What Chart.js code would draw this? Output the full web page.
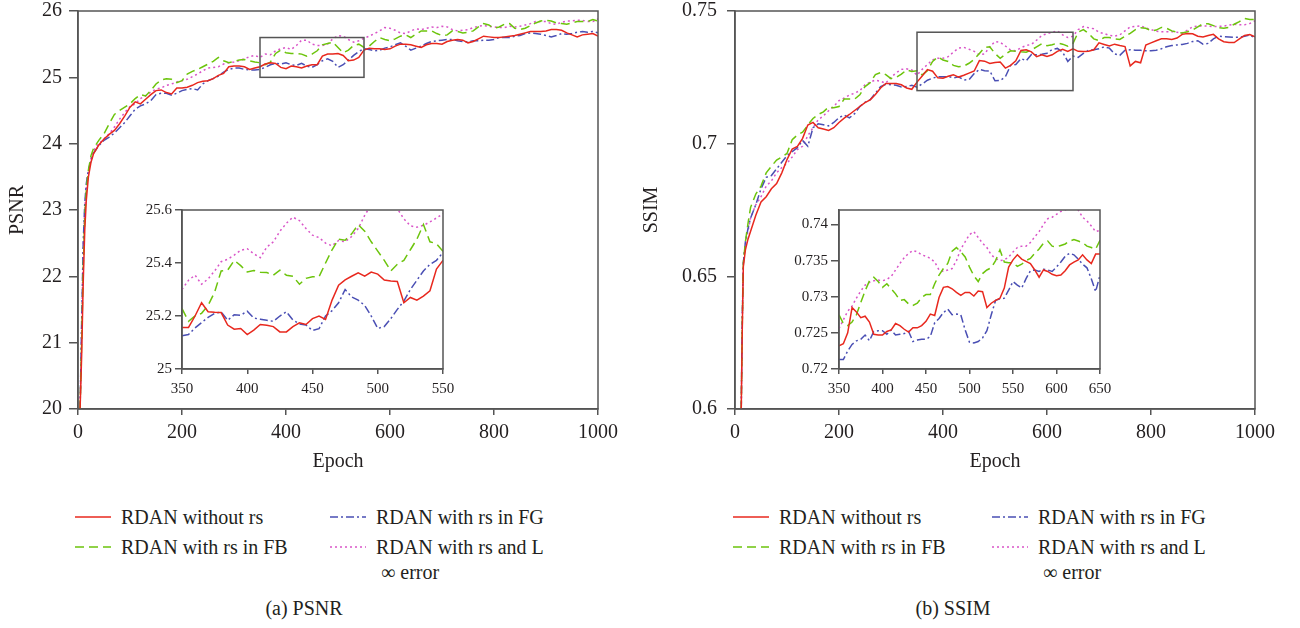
<!DOCTYPE html>
<html>
<head>
<meta charset="utf-8">
<script src="https://cdn.jsdelivr.net/npm/chart.js@4.4.1/dist/chart.umd.min.js"></script>
<style>
  body { margin: 0; background: #fff; }
  #page { position: relative; width: 1300px; height: 628px; overflow: hidden;
          font-family: 'Liberation Serif', 'DejaVu Serif', serif; color: #231f20; }
  canvas { position: absolute; }
  .lg { position: absolute; font-size: 20px; line-height: 25px; white-space: pre; }
  .lg svg { position: absolute; }
  .cap { position: absolute; font-size: 20px; line-height: 24px; transform: translateX(-50%); white-space: nowrap; }
</style>
</head>
<body>
<div id="page">
  <canvas id="psnrMain" width="640" height="480" style="left:0;top:0"></canvas>
  <canvas id="psnrInset" width="340" height="220" style="left:120px;top:190px"></canvas>
  <canvas id="ssimMain" width="660" height="480" style="left:630px;top:0"></canvas>
  <canvas id="ssimInset" width="340" height="220" style="left:780px;top:190px"></canvas>
  <div class="cap" style="left:304px;top:596px">(a) PSNR</div>
  <div class="cap" style="left:953px;top:596px">(b) SSIM</div>
</div>
<script>
// series: red, green, blue, magenta
const seriesNames = ['RDAN without rs', 'RDAN with rs in FB', 'RDAN with rs in FG', 'RDAN with rs and L\n ∞ error'];
const seriesColors = ['#e8281e', '#6cc40c', '#4a4fb4', '#d954c8'];
const seriesDash = [[], [9, 5], [8, 3, 2, 3], [2, 3]];

// x values (epochs)
const psnrEpochs = [4, 7, 10, 13, 16, 20, 25, 30,
  40, 50, 60, 70, 80, 90, 100, 110, 120, 130,
  140, 150, 160, 170, 180, 190, 200, 210, 220, 230,
  240, 250, 260, 270, 280, 290, 300, 310, 320, 330,
  340, 350, 360, 370, 380, 390, 400, 410, 420, 430,
  440, 450, 460, 470, 480, 490, 500, 510, 520, 530,
  540, 550, 560, 570, 580, 590, 600, 610, 620, 630,
  640, 650, 660, 670, 680, 690, 700, 710, 720, 730,
  740, 750, 760, 770, 780, 790, 800, 810, 820, 830,
  840, 850, 860, 870, 880, 890, 900, 910, 920, 930,
  940, 950, 960, 970, 980, 990, 1000];
const ssimEpochs = [12, 14, 16, 20, 25, 30,
  40, 50, 60, 70, 80, 90, 100, 110, 120, 130,
  140, 150, 160, 170, 180, 190, 200, 210, 220, 230,
  240, 250, 260, 270, 280, 290, 300, 310, 320, 330,
  340, 350, 360, 370, 380, 390, 400, 410, 420, 430,
  440, 450, 460, 470, 480, 490, 500, 510, 520, 530,
  540, 550, 560, 570, 580, 590, 600, 610, 620, 630,
  640, 650, 660, 670, 680, 690, 700, 710, 720, 730,
  740, 750, 760, 770, 780, 790, 800, 810, 820, 830,
  840, 850, 860, 870, 880, 890, 900, 910, 920, 930,
  940, 950, 960, 970, 980, 990, 1000];
const psnrInsetEpochs = [350, 355, 360, 365, 370, 375, 380, 385, 390, 395,
  400, 405, 410, 415, 420, 425, 430, 435, 440, 445,
  450, 455, 460, 465, 470, 475, 480, 485, 490, 495,
  500, 505, 510, 515, 520, 525, 530, 535, 540, 545, 550];
const ssimInsetEpochs = [350, 355, 360, 365, 370, 375, 380, 385, 390, 395,
  400, 405, 410, 415, 420, 425, 430, 435, 440, 445,
  450, 455, 460, 465, 470, 475, 480, 485, 490, 495,
  500, 505, 510, 515, 520, 525, 530, 535, 540, 545,
  550, 555, 560, 565, 570, 575, 580, 585, 590, 595,
  600, 605, 610, 615, 620, 625, 630, 635, 640, 645, 650];

// PSNR, full run
const psnrRed = [20.0, 20.8, 21.9, 22.7, 23.15, 23.5, 23.72, 23.85,
  23.98, 24.07, 24.14, 24.2, 24.3, 24.42, 24.55, 24.63, 24.6, 24.67,
  24.74, 24.8, 24.81, 24.77, 24.75, 24.84, 24.84, 24.85, 24.88, 24.92,
  24.94, 24.95, 24.98, 25.03, 25.06, 25.16, 25.17, 25.17, 25.16, 25.12,
  25.14, 25.16, 25.2, 25.22, 25.21, 25.15, 25.13, 25.17, 25.16, 25.14,
  25.17, 25.19, 25.19, 25.32, 25.35, 25.35, 25.36, 25.33, 25.25, 25.26,
  25.3, 25.41, 25.44, 25.43, 25.43, 25.42, 25.43, 25.47, 25.5, 25.5,
  25.49, 25.47, 25.45, 25.49, 25.51, 25.51, 25.5, 25.54, 25.56, 25.57,
  25.56, 25.52, 25.54, 25.58, 25.62, 25.61, 25.6, 25.6, 25.61, 25.62,
  25.63, 25.65, 25.67, 25.69, 25.69, 25.69, 25.7, 25.72, 25.72, 25.71,
  25.67, 25.64, 25.61, 25.64, 25.65, 25.66, 25.62];
const psnrGreen = [20.0, 21.0, 22.1, 22.9, 23.3, 23.6, 23.82, 23.93,
  24.05, 24.15, 24.3, 24.44, 24.5, 24.55, 24.6, 24.68, 24.74, 24.72,
  24.8, 24.9, 24.96, 24.98, 24.97, 24.92, 24.95, 25.05, 25.09, 25.12,
  25.16, 25.2, 25.24, 25.3, 25.25, 25.22, 25.24, 25.26, 25.27, 25.25,
  25.23, 25.22, 25.19, 25.23, 25.36, 25.41, 25.37, 25.36, 25.36, 25.35,
  25.32, 25.35, 25.4, 25.49, 25.51, 25.53, 25.45, 25.37, 25.41, 25.48,
  25.5, 25.45, 25.47, 25.54, 25.6, 25.57, 25.55, 25.58, 25.62, 25.64,
  25.6, 25.65, 25.7, 25.7, 25.7, 25.66, 25.63, 25.64, 25.7, 25.69,
  25.67, 25.68, 25.7, 25.76, 25.81, 25.79, 25.74, 25.76, 25.8, 25.81,
  25.74, 25.72, 25.74, 25.78, 25.82, 25.85, 25.86, 25.85, 25.82, 25.81,
  25.8, 25.82, 25.84, 25.84, 25.84, 25.87, 25.85];
const psnrBlue = [20.0, 21.3, 22.5, 23.1, 23.4, 23.6, 23.75, 23.86,
  23.97, 24.05, 24.1, 24.16, 24.24, 24.32, 24.42, 24.52, 24.57, 24.6,
  24.65, 24.74, 24.76, 24.76, 24.73, 24.76, 24.8, 24.82, 24.83, 24.81,
  24.9, 24.95, 24.98, 25.02, 25.08, 25.12, 25.14, 25.14, 25.12, 25.11,
  25.11, 25.12, 25.15, 25.19, 25.21, 25.2, 25.22, 25.19, 25.18, 25.21,
  25.17, 25.15, 25.19, 25.25, 25.28, 25.24, 25.15, 25.19, 25.26, 25.33,
  25.39, 25.43, 25.42, 25.4, 25.41, 25.44, 25.46, 25.49, 25.52, 25.47,
  25.41, 25.44, 25.47, 25.51, 25.54, 25.55, 25.56, 25.57, 25.57, 25.55,
  25.54, 25.53, 25.55, 25.55, 25.56, 25.56, 25.57, 25.6, 25.6, 25.6,
  25.62, 25.63, 25.66, 25.67, 25.66, 25.65, 25.63, 25.61, 25.63, 25.66,
  25.65, 25.66, 25.68, 25.69, 25.68, 25.69, 25.67];
const psnrMagenta = [20.0, 21.2, 22.4, 23.0, 23.35, 23.6, 23.78, 23.9,
  24.0, 24.07, 24.15, 24.25, 24.37, 24.47, 24.56, 24.6, 24.68, 24.72,
  24.78, 24.82, 24.84, 24.88, 24.9, 24.93, 24.95, 24.97, 25.01, 25.05,
  25.1, 25.14, 25.15, 25.16, 25.2, 25.22, 25.23, 25.25, 25.28, 25.31,
  25.33, 25.3, 25.35, 25.34, 25.4, 25.43, 25.45, 25.42, 25.48, 25.56,
  25.56, 25.5, 25.48, 25.48, 25.5, 25.58, 25.63, 25.62, 25.57, 25.53,
  25.55, 25.59, 25.62, 25.66, 25.7, 25.75, 25.74, 25.71, 25.67, 25.66,
  25.7, 25.73, 25.72, 25.74, 25.76, 25.75, 25.77, 25.76, 25.72, 25.7,
  25.71, 25.72, 25.75, 25.77, 25.78, 25.77, 25.76, 25.75, 25.75, 25.77,
  25.76, 25.77, 25.79, 25.81, 25.84, 25.84, 25.84, 25.81, 25.8, 25.83,
  25.85, 25.85, 25.86, 25.86, 25.84, 25.84, 25.88];

// PSNR, zoomed window 350-550
const psnrInsetRed = [25.157, 25.157, 25.2, 25.25, 25.216, 25.214, 25.213, 25.166, 25.15, 25.153,
  25.13, 25.147, 25.168, 25.165, 25.16, 25.14, 25.14, 25.16, 25.174, 25.168,
  25.19, 25.2, 25.187, 25.26, 25.316, 25.336, 25.35, 25.363, 25.35, 25.366,
  25.358, 25.336, 25.332, 25.33, 25.25, 25.27, 25.26, 25.275, 25.295, 25.377, 25.41];
const psnrInsetGreen = [25.228, 25.18, 25.2, 25.21, 25.24, 25.29, 25.37, 25.373, 25.41, 25.39,
  25.366, 25.372, 25.365, 25.364, 25.354, 25.373, 25.354, 25.35, 25.32, 25.342,
  25.348, 25.348, 25.4, 25.45, 25.49, 25.486, 25.51, 25.545, 25.52, 25.48,
  25.445, 25.41, 25.37, 25.395, 25.41, 25.45, 25.49, 25.545, 25.48, 25.473, 25.444];
const psnrInsetBlue = [25.125, 25.13, 25.155, 25.175, 25.195, 25.21, 25.215, 25.184, 25.205, 25.203,
  25.218, 25.192, 25.188, 25.184, 25.18, 25.2, 25.216, 25.185, 25.17, 25.166,
  25.145, 25.152, 25.2, 25.22, 25.25, 25.3, 25.272, 25.26, 25.24, 25.2,
  25.153, 25.16, 25.19, 25.225, 25.256, 25.3, 25.335, 25.37, 25.395, 25.41, 25.44];
const psnrInsetMagenta = [25.3, 25.335, 25.354, 25.32, 25.34, 25.37, 25.405, 25.414, 25.43, 25.448,
  25.454, 25.435, 25.42, 25.46, 25.48, 25.52, 25.55, 25.573, 25.56, 25.53,
  25.505, 25.496, 25.475, 25.465, 25.485, 25.48, 25.5, 25.53, 25.58, 25.62,
  25.63, 25.63, 25.62, 25.605, 25.567, 25.54, 25.535, 25.542, 25.555, 25.57, 25.586];

// SSIM, full run
const ssimRed = [0.600, 0.630, 0.6536, 0.660, 0.664, 0.667,
  0.673, 0.678, 0.680, 0.683, 0.685, 0.689, 0.694, 0.698, 0.699, 0.702,
  0.707, 0.708, 0.706, 0.7055, 0.705, 0.706, 0.708, 0.7096, 0.711, 0.7125,
  0.714, 0.7155, 0.7165, 0.7185, 0.721, 0.7227, 0.7227, 0.7227, 0.7222, 0.721,
  0.7205, 0.7232, 0.7255, 0.7279, 0.7273, 0.7248, 0.7247, 0.7254, 0.726, 0.7251,
  0.7258, 0.7266, 0.7274, 0.7313, 0.7311, 0.7302, 0.7306, 0.7308, 0.7285, 0.7295,
  0.7312, 0.7351, 0.7354, 0.7346, 0.7328, 0.7335, 0.7329, 0.7335, 0.7348, 0.7356,
  0.7348, 0.7357, 0.7348, 0.7347, 0.7348, 0.7354, 0.738, 0.7374, 0.7368, 0.7375,
  0.737, 0.7366, 0.7293, 0.731, 0.7305, 0.7372, 0.738, 0.7388, 0.7395, 0.7395,
  0.7393, 0.7398, 0.7412, 0.7415, 0.7414, 0.7405, 0.7402, 0.7408, 0.7412, 0.7395,
  0.7384, 0.7381, 0.7381, 0.7395, 0.7408, 0.7411, 0.7403];
const ssimGreen = [0.600, 0.632, 0.655, 0.663, 0.670, 0.676,
  0.681, 0.684, 0.689, 0.6915, 0.6938, 0.695, 0.6963, 0.7015, 0.7033, 0.7043,
  0.707, 0.7095, 0.711, 0.712, 0.7138, 0.7135, 0.714, 0.7168, 0.7168, 0.7168,
  0.7184, 0.7215, 0.723, 0.726, 0.7268, 0.726, 0.7245, 0.725, 0.7262, 0.7278,
  0.7272, 0.7275, 0.7259, 0.7275, 0.731, 0.7327, 0.7315, 0.731, 0.7295, 0.729,
  0.7292, 0.7303, 0.7318, 0.734, 0.7362, 0.7365, 0.734, 0.7322, 0.7337, 0.735,
  0.7348, 0.7346, 0.7345, 0.7353, 0.7365, 0.7377, 0.7369, 0.7373, 0.7379, 0.7375,
  0.7367, 0.7378, 0.742, 0.743, 0.7415, 0.7395, 0.7388, 0.74, 0.74, 0.7395,
  0.7393, 0.7405, 0.7416, 0.743, 0.7437, 0.7435, 0.7425, 0.7428, 0.7438, 0.7435,
  0.7425, 0.742, 0.7417, 0.7422, 0.7428, 0.744, 0.7452, 0.7452, 0.7445, 0.7437,
  0.7435, 0.7438, 0.745, 0.746, 0.7472, 0.7468, 0.7468];
const ssimBlue = [0.600, 0.635, 0.655, 0.663, 0.668, 0.672,
  0.677, 0.683, 0.6873, 0.688, 0.6905, 0.693, 0.6955, 0.697, 0.6985, 0.7012,
  0.699, 0.706, 0.7075, 0.7071, 0.7067, 0.708, 0.7098, 0.7108, 0.7097, 0.7113,
  0.714, 0.7156, 0.7166, 0.719, 0.7215, 0.7224, 0.7222, 0.722, 0.7214, 0.7215,
  0.722, 0.7213, 0.7225, 0.7239, 0.7247, 0.7252, 0.7252, 0.7253, 0.7248, 0.7252,
  0.724, 0.7241, 0.7264, 0.728, 0.7275, 0.7274, 0.7237, 0.7238, 0.7252, 0.7295,
  0.7298, 0.7321, 0.7312, 0.7336, 0.7335, 0.7337, 0.7341, 0.7355, 0.7359, 0.7345,
  0.731, 0.733, 0.7325, 0.734, 0.7352, 0.7354, 0.7358, 0.7365, 0.736, 0.7338,
  0.7333, 0.7352, 0.7354, 0.7352, 0.7352, 0.735, 0.735, 0.7352, 0.7358, 0.7365,
  0.737, 0.7372, 0.7374, 0.7378, 0.7385, 0.7388, 0.7375, 0.7378, 0.7395, 0.7405,
  0.7403, 0.7402, 0.7401, 0.7401, 0.7405, 0.741, 0.7397];
const ssimMagenta = [0.600, 0.632, 0.655, 0.662, 0.667, 0.672,
  0.677, 0.680, 0.684, 0.686, 0.689, 0.691, 0.6926, 0.695, 0.6978, 0.699,
  0.703, 0.706, 0.709, 0.7105, 0.7124, 0.714, 0.7162, 0.7172, 0.7183, 0.719,
  0.72, 0.7222, 0.7232, 0.724, 0.7235, 0.7228, 0.725, 0.7267, 0.728, 0.7282,
  0.7278, 0.7258, 0.728, 0.7298, 0.7316, 0.7322, 0.7322, 0.7328, 0.7345, 0.736,
  0.7363, 0.7356, 0.7348, 0.7335, 0.7338, 0.7365, 0.7385, 0.7382, 0.7368, 0.7353,
  0.735, 0.7362, 0.737, 0.7374, 0.739, 0.7408, 0.7414, 0.742, 0.7425, 0.741,
  0.74, 0.7405, 0.743, 0.7441, 0.7437, 0.7433, 0.742, 0.7415, 0.7408, 0.7405,
  0.741, 0.7425, 0.744, 0.7442, 0.7444, 0.7436, 0.743, 0.7424, 0.7422, 0.7422,
  0.7422, 0.742, 0.7417, 0.7428, 0.744, 0.7443, 0.7444, 0.7443, 0.7441, 0.7442,
  0.7443, 0.7447, 0.745, 0.7448, 0.7448, 0.7453, 0.7463];

// SSIM, zoomed window 350-650
const ssimInsetRed = [0.7232, 0.7235, 0.725, 0.7285, 0.7279, 0.7271, 0.7273, 0.7265, 0.7248, 0.7247,
  0.7247, 0.7252, 0.7254, 0.7263, 0.726, 0.7255, 0.7251, 0.7257, 0.7257, 0.726,
  0.7266, 0.7276, 0.7274, 0.7299, 0.7313, 0.7314, 0.7311, 0.7306, 0.7302, 0.7306,
  0.7306, 0.7301, 0.7308, 0.7307, 0.7285, 0.7291, 0.7295, 0.7298, 0.7312, 0.7341,
  0.7351, 0.7358, 0.7352, 0.7349, 0.7346, 0.7337, 0.7327, 0.7337, 0.7335, 0.7331,
  0.7329, 0.733, 0.7336, 0.7344, 0.7348, 0.7351, 0.7358, 0.7351, 0.7346, 0.7359, 0.7359];
const ssimInsetGreen = [0.7275, 0.7263, 0.726, 0.7265, 0.7275, 0.7292, 0.7308, 0.7322, 0.7327, 0.7321,
  0.7313, 0.7318, 0.7311, 0.7304, 0.7295, 0.7296, 0.729, 0.7288, 0.7291, 0.7299,
  0.7303, 0.7303, 0.7318, 0.733, 0.7339, 0.7346, 0.7363, 0.7368, 0.7362, 0.7355,
  0.7341, 0.7329, 0.7321, 0.7332, 0.7337, 0.734, 0.735, 0.7365, 0.7348, 0.7347,
  0.7347, 0.7342, 0.7345, 0.735, 0.7353, 0.736, 0.7366, 0.7374, 0.7377, 0.737,
  0.7369, 0.7371, 0.7373, 0.7377, 0.7379, 0.7377, 0.7375, 0.737, 0.7368, 0.7366, 0.7378];
const ssimInsetBlue = [0.7213, 0.7213, 0.7225, 0.7234, 0.7239, 0.7241, 0.7247, 0.7239, 0.7252, 0.7253,
  0.7253, 0.7248, 0.7254, 0.7247, 0.7248, 0.7249, 0.7252, 0.7238, 0.724, 0.7241,
  0.7241, 0.7245, 0.7264, 0.727, 0.7278, 0.7283, 0.7275, 0.7276, 0.7275, 0.7254,
  0.7237, 0.7236, 0.7238, 0.7243, 0.7253, 0.7275, 0.7295, 0.7297, 0.7298, 0.7309,
  0.7321, 0.7316, 0.7312, 0.7325, 0.7336, 0.7337, 0.7335, 0.7338, 0.7337, 0.7335,
  0.7341, 0.7348, 0.7356, 0.736, 0.7358, 0.7352, 0.7345, 0.734, 0.7325, 0.7307, 0.733];
const ssimInsetMagenta = [0.7256, 0.7268, 0.728, 0.7287, 0.7298, 0.7308, 0.7316, 0.732, 0.7322, 0.7323,
  0.7322, 0.7324, 0.7328, 0.7337, 0.7346, 0.7354, 0.736, 0.7364, 0.7362, 0.7358,
  0.7356, 0.7353, 0.7348, 0.7337, 0.7335, 0.7337, 0.7339, 0.735, 0.7366, 0.7376,
  0.7386, 0.739, 0.7382, 0.7374, 0.7368, 0.7358, 0.7353, 0.735, 0.7351, 0.7355,
  0.7362, 0.7368, 0.737, 0.737, 0.7375, 0.7383, 0.739, 0.74, 0.7408, 0.741,
  0.7414, 0.7418, 0.742, 0.7424, 0.7425, 0.742, 0.741, 0.7405, 0.7398, 0.739, 0.7392];

// zoom windows marked on the main plots
const psnrZoomX = [350, 550];
const psnrZoomY = [25, 25.6];
const ssimZoomX = [350, 650];
const ssimZoomY = [0.72, 0.742];

const FONT = "'Liberation Serif', 'DejaVu Serif', serif";
const INK = '#231f20';
const AXIS = '#555555';

function numLabel(v) {
  return String(parseFloat(Number(v).toFixed(4)));
}

// draws the closed frame and the zoom rectangle
const framePlugin = {
  id: 'frame',
  afterDatasetsDraw(chart, args, opts) {
    const ctx = chart.ctx;
    const a = chart.chartArea;
    ctx.save();
    ctx.strokeStyle = AXIS;
    ctx.lineWidth = 1.5;
    ctx.setLineDash([]);
    ctx.strokeRect(a.left, a.top, a.right - a.left, a.bottom - a.top);
    if (opts.boxX) {
      const xs = chart.scales.x, ys = chart.scales.y;
      const l = xs.getPixelForValue(opts.boxX[0]);
      const r = xs.getPixelForValue(opts.boxX[1]);
      const t = ys.getPixelForValue(opts.boxY[1]);
      const b = ys.getPixelForValue(opts.boxY[0]);
      ctx.strokeRect(l, t, r - l, b - t);
    }
    ctx.restore();
  }
};

function buildChart(canvasId, xs, seriesData, cfg) {
  const datasets = seriesData.map((ys, i) => ({
    label: seriesNames[i],
    data: ys.map((y, j) => ({ x: xs[j], y: y })),
    borderColor: seriesColors[i],
    borderDash: seriesDash[i],
    borderWidth: cfg.lineWidth,
    pointRadius: 0,
    fill: false,
    tension: 0,
    clip: 0
  }));
  return new Chart(document.getElementById(canvasId), {
    type: 'line',
    data: { datasets: datasets },
    plugins: [framePlugin],
    options: {
      responsive: false,
      animation: false,
      devicePixelRatio: 1,
      layout: { padding: { left: 0, top: cfg.padTop, right: cfg.padRight, bottom: 0 } },
      plugins: {
        legend: { display: false },
        tooltip: { enabled: false },
        frame: { boxX: cfg.boxX, boxY: cfg.boxY }
      },
      scales: {
        x: {
          type: 'linear',
          min: cfg.xRange[0], max: cfg.xRange[1],
          afterFit: s => { s.height = cfg.xAxisHeight; s.paddingLeft = 0; s.paddingRight = 0; },
          ticks: {
            stepSize: cfg.xStep, autoSkip: false, maxRotation: 0, includeBounds: false,
            padding: cfg.xLabelPad, color: INK,
            font: { family: FONT, size: cfg.tickFont, lineHeight: 1 },
            callback: numLabel
          },
          grid: { drawOnChartArea: false, drawTicks: true, tickLength: cfg.xTickLen, color: AXIS, lineWidth: 1.5 },
          border: { color: AXIS, width: 1.5 },
          title: {
            display: !!cfg.xTitle, text: cfg.xTitle || '', color: INK,
            font: { family: FONT, size: 20 }, padding: { top: 0, bottom: 6 }
          }
        },
        y: {
          type: 'linear',
          min: cfg.yRange[0], max: cfg.yRange[1],
          afterFit: s => { s.width = cfg.yAxisWidth; s.paddingTop = 0; s.paddingBottom = 0; },
          ticks: {
            stepSize: cfg.yStep, autoSkip: false, includeBounds: false,
            padding: cfg.yLabelPad, color: INK,
            font: { family: FONT, size: cfg.tickFont, lineHeight: 1 },
            callback: numLabel
          },
          grid: { drawOnChartArea: false, drawTicks: true, tickLength: cfg.yTickLen, color: AXIS, lineWidth: 1.5 },
          border: { color: AXIS, width: 1.5 },
          title: {
            display: !!cfg.yTitle, text: cfg.yTitle || '', color: INK,
            font: { family: FONT, size: 20 }, padding: { top: cfg.yTitlePad || 0, bottom: 0 }
          }
        }
      }
    }
  });
}

buildChart('psnrMain', psnrEpochs, [psnrRed, psnrGreen, psnrBlue, psnrMagenta], {
  lineWidth: 1.5, padTop: 11, padRight: 42,
  xRange: [0, 1000], xStep: 200, xAxisHeight: 71, xTickLen: 6, xLabelPad: 8, xTitle: 'Epoch',
  yRange: [20, 26], yStep: 1, yAxisWidth: 78, yTickLen: 9, yLabelPad: 7, yTitle: 'PSNR', yTitlePad: 6,
  tickFont: 20, boxX: psnrZoomX, boxY: psnrZoomY
});
buildChart('psnrInset', psnrInsetEpochs, [psnrInsetRed, psnrInsetGreen, psnrInsetBlue, psnrInsetMagenta], {
  lineWidth: 1.5, padTop: 20, padRight: 17,
  xRange: [350, 550], xStep: 50, xAxisHeight: 41, xTickLen: 5, xLabelPad: 8,
  yRange: [25, 25.6], yStep: 0.2, yAxisWidth: 62, yTickLen: 7, yLabelPad: 3,
  tickFont: 15
});
buildChart('ssimMain', ssimEpochs, [ssimRed, ssimGreen, ssimBlue, ssimMagenta], {
  lineWidth: 1.5, padTop: 11, padRight: 35,
  xRange: [0, 1000], xStep: 200, xAxisHeight: 71, xTickLen: 6, xLabelPad: 8, xTitle: 'Epoch',
  yRange: [0.6, 0.75], yStep: 0.05, yAxisWidth: 105, yTickLen: 8, yLabelPad: 10, yTitle: 'SSIM', yTitlePad: 10,
  tickFont: 20, boxX: ssimZoomX, boxY: ssimZoomY
});
buildChart('ssimInset', ssimInsetEpochs, [ssimInsetRed, ssimInsetGreen, ssimInsetBlue, ssimInsetMagenta], {
  lineWidth: 1.5, padTop: 20, padRight: 20,
  xRange: [350, 650], xStep: 50, xAxisHeight: 41, xTickLen: 5, xLabelPad: 8,
  yRange: [0.72, 0.742], yStep: 0.005, yAxisWidth: 59, yTickLen: 8, yLabelPad: 3,
  tickFont: 15
});

// legends: two columns, two rows per panel
const legendCols = [[75, 330], [733, 992]];
const legendRows = [517, 547];
const legendSlots = [[0, 0], [0, 1], [1, 0], [1, 1]]; // [column, row] for each series
const page = document.getElementById('page');
legendCols.forEach(cols => {
  seriesNames.forEach((name, i) => {
    const x = cols[legendSlots[i][0]];
    const y = legendRows[legendSlots[i][1]];
    const item = document.createElement('div');
    item.className = 'lg';
    item.style.left = x + 'px';
    item.style.top = (y - 12.5) + 'px';
    const dash = seriesDash[i].length ? seriesDash[i].join(' ') : 'none';
    item.innerHTML = '<svg width="36" height="4" style="left:0;top:10.5px"><line x1="0" y1="2" x2="36" y2="2" stroke="' +
      seriesColors[i] + '" stroke-width="1.5" stroke-dasharray="' + dash + '"/></svg>' +
      '<div style="margin-left:46px">' + name + '</div>';
    page.appendChild(item);
  });
});
</script>
</body>
</html>
